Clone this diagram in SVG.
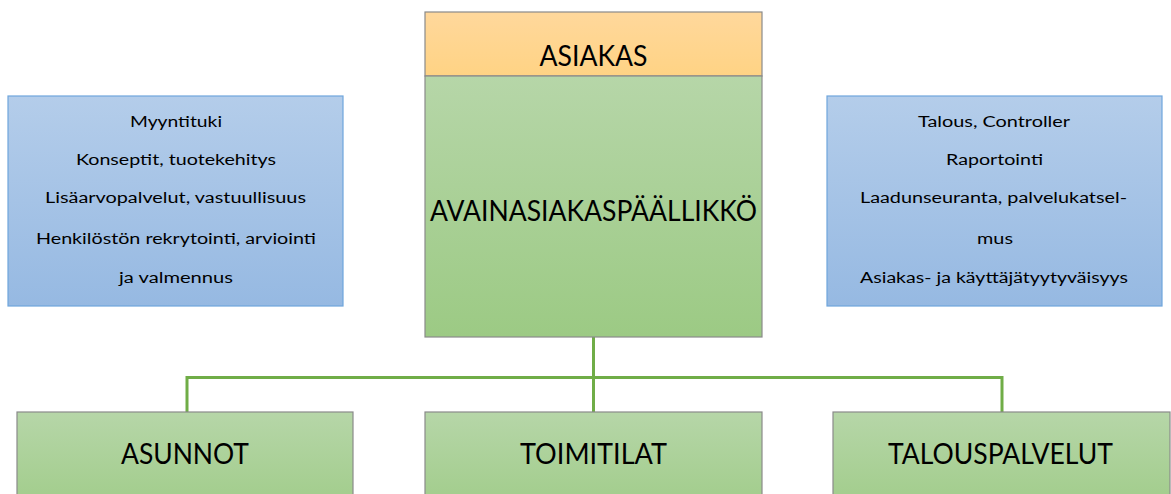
<svg xmlns="http://www.w3.org/2000/svg" width="1171" height="494" viewBox="0 0 1171 494">
  <defs>
    <linearGradient id="gGreen" x1="0" y1="0" x2="0" y2="1">
      <stop offset="0" stop-color="#b6d6a8"/>
      <stop offset="1" stop-color="#9cca84"/>
    </linearGradient>
    <linearGradient id="gGreenLow" x1="0" y1="0" x2="0" y2="1">
      <stop offset="0" stop-color="#b6d6a8"/>
      <stop offset="1" stop-color="#a0cc89"/>
    </linearGradient>
    <linearGradient id="gOrange" x1="0" y1="0" x2="0" y2="1">
      <stop offset="0" stop-color="#ffd89c"/>
      <stop offset="1" stop-color="#ffd384"/>
    </linearGradient>
    <linearGradient id="gBlue" x1="0" y1="0" x2="0" y2="1">
      <stop offset="0" stop-color="#b4cdea"/>
      <stop offset="1" stop-color="#96b9e2"/>
    </linearGradient>
    <style>
      .box { stroke: #8a8a8a; stroke-width: 1.2; }
      .side { fill: url(#gBlue); stroke: #6fa6dc; stroke-width: 1.2; }
      .big { font-family: Lato, "Liberation Sans", sans-serif; font-size: 28px; fill: #000; text-anchor: middle; }
      .small { font-family: Lato, "Liberation Sans", sans-serif; font-size: 15.5px; fill: #000; text-anchor: middle; }
      .link { fill: none; stroke: #70ad47; stroke-width: 3; }
    </style>
  </defs>

  <!-- connectors -->
  <g id="connectors">
    <path class="link" d="M593.5 337 V412"/>
    <path class="link" d="M187 412 V377.5 H1002 V412"/>
  </g>

  <!-- customer on top of key account manager -->
  <g id="asiakas">
    <rect class="box" x="425" y="12" width="337" height="64" fill="url(#gOrange)"/>
    <text class="big" x="593.5" y="66" textLength="108" lengthAdjust="spacingAndGlyphs">ASIAKAS</text>
  </g>

  <g id="avainasiakaspaallikko">
    <rect class="box" x="425" y="76" width="337" height="261" fill="url(#gGreen)"/>
    <text class="big" x="593.5" y="221" textLength="327" lengthAdjust="spacingAndGlyphs">AVAINASIAKASPÄÄLLIKKÖ</text>
  </g>

  <!-- support functions, left -->
  <g id="tuki">
    <rect class="side" x="8" y="96" width="335" height="210"/>
    <text class="small" x="176" y="127" textLength="92" lengthAdjust="spacingAndGlyphs">Myyntituki</text>
    <text class="small" x="176" y="165" textLength="200" lengthAdjust="spacingAndGlyphs">Konseptit, tuotekehitys</text>
    <text class="small" x="175.5" y="203" textLength="261" lengthAdjust="spacingAndGlyphs">Lisäarvopalvelut, vastuullisuus</text>
    <text class="small" x="176" y="244" textLength="280" lengthAdjust="spacingAndGlyphs">Henkilöstön rekrytointi, arviointi</text>
    <text class="small" x="176" y="283" textLength="114" lengthAdjust="spacingAndGlyphs">ja valmennus</text>
  </g>

  <!-- support functions, right -->
  <g id="talous">
    <rect class="side" x="827" y="96" width="335" height="210"/>
    <text class="small" x="994" y="127" textLength="152" lengthAdjust="spacingAndGlyphs">Talous, Controller</text>
    <text class="small" x="994.5" y="165" textLength="97" lengthAdjust="spacingAndGlyphs">Raportointi</text>
    <text class="small" x="993.5" y="203" textLength="267" lengthAdjust="spacingAndGlyphs">Laadunseuranta, palvelukatsel-</text>
    <text class="small" x="995" y="244" textLength="36" lengthAdjust="spacingAndGlyphs">mus</text>
    <text class="small" x="994" y="283" textLength="268" lengthAdjust="spacingAndGlyphs">Asiakas- ja käyttäjätyytyväisyys</text>
  </g>

  <!-- business lines -->
  <g id="asunnot">
    <rect class="box" x="17" y="412" width="336" height="100" fill="url(#gGreenLow)"/>
    <text class="big" x="185" y="464" textLength="128" lengthAdjust="spacingAndGlyphs">ASUNNOT</text>
  </g>

  <g id="toimitilat">
    <rect class="box" x="425" y="412" width="337" height="100" fill="url(#gGreenLow)"/>
    <text class="big" x="593.5" y="464" textLength="147" lengthAdjust="spacingAndGlyphs">TOIMITILAT</text>
  </g>

  <g id="talouspalvelut">
    <rect class="box" x="833" y="412" width="337" height="100" fill="url(#gGreenLow)"/>
    <text class="big" x="1000.5" y="464" textLength="225" lengthAdjust="spacingAndGlyphs">TALOUSPALVELUT</text>
  </g>
</svg>
